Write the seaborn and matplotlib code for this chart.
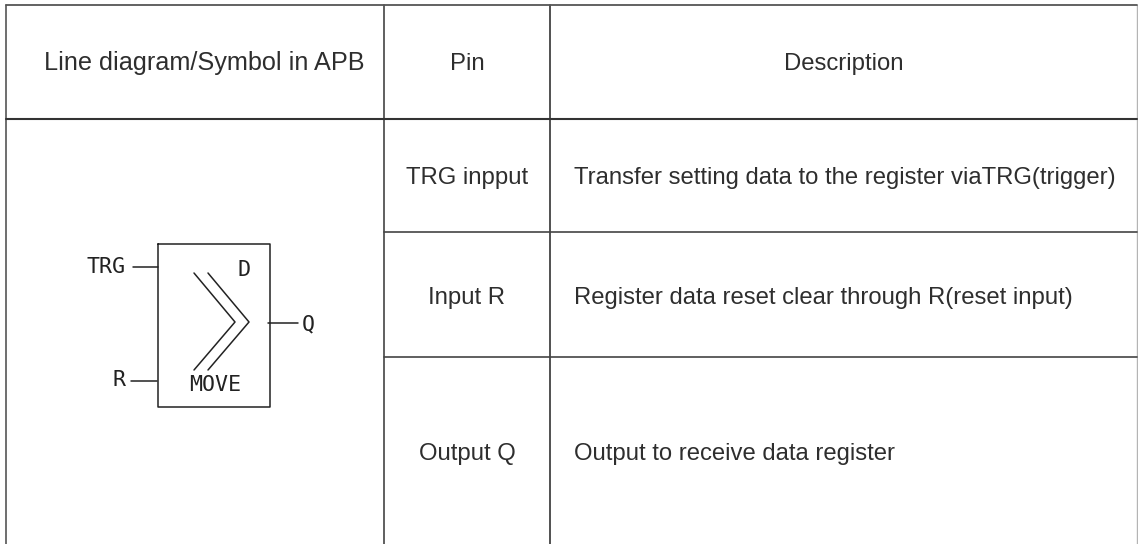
import matplotlib.pyplot as plt
import seaborn as sns

sns.set_theme(style='white')
plt.rcParams['font.family'] = ['Liberation Sans', 'DejaVu Sans']

# Table text
headers = ['Line diagram/Symbol in APB', 'Pin', 'Description']
pins = ['TRG inpput', 'Input R', 'Output Q']
descriptions = [
    'Transfer setting data to the register viaTRG(trigger)',
    'Register data reset clear through R(reset input)',
    'Output to receive data register',
]

fig = plt.figure(figsize=(11.38, 5.44), dpi=100)
ax = fig.add_axes([0, 0, 1, 1])
ax.set_xlim(0, 1138)
ax.set_ylim(544, 0)
ax.axis('off')

ink = '#333333'
text_col = '#2e2e2e'
fs = 17.2

# Table grid, no rule along the bottom edge
left, col1, col2, right = 6, 384, 550, 1137
top, row1, row2, row3, bottom = 4.5, 119, 232, 357, 544
ax.plot([left, left], [top, bottom], color='#555555', lw=1.2)
ax.plot([col1, col1], [top, bottom], color='#444444', lw=1.2)
ax.plot([col2, col2], [top, bottom], color=ink, lw=1.2)
ax.plot([right, right], [top, bottom], color='#b4b4b4', lw=1.0)
ax.plot([left, right], [top, top], color='#555555', lw=1.3)
ax.plot([left, right], [row1, row1], color=ink, lw=1.5)
for y in [row2, row3]:
    ax.plot([col1, right], [y, y], color='#444444', lw=1.2)

ax.text(204, 70, headers[0], ha='center', va='baseline', fontsize=18.2, color=text_col)
ax.text(467, 70, headers[1], ha='center', va='baseline', fontsize=fs, color=text_col)
ax.text(844, 70, headers[2], ha='center', va='baseline', fontsize=fs, color=text_col)

for pin, desc, y in zip(pins, descriptions, [184, 304, 460]):
    ax.text(467, y, pin, ha='center', va='baseline', fontsize=fs, color=text_col)
    ax.text(574, y, desc, ha='left', va='baseline', fontsize=fs, color=text_col)

# Symbol
sym = '#222222'
ax.plot([158, 270, 270, 158, 158], [244, 244, 407, 407, 244], color=sym, lw=1.1)
ax.plot([133, 158], [267, 267], color=sym, lw=1.1)
ax.plot([131, 157], [381, 381], color=sym, lw=1.1)
ax.plot([268, 298], [323, 323], color=sym, lw=1.1)
ax.plot([194, 235, 194], [273, 322, 370], color=sym, lw=1.1)
ax.plot([208, 249, 208], [273, 322, 370], color=sym, lw=1.1)

mono = dict(family=['DejaVu Sans Mono', 'DejaVu Sans'], color=sym, va='center', fontsize=15.6)
ax.text(126, 267, 'TRG', ha='right', **mono)
ax.text(126, 380, 'R', ha='right', **mono)
ax.text(302, 324, 'Q', ha='left', **mono)
ax.text(244, 270, 'D', ha='center', **mono)
ax.text(215, 385, 'MOVE', ha='center', **mono)

fig.savefig('out.png', dpi=100)
